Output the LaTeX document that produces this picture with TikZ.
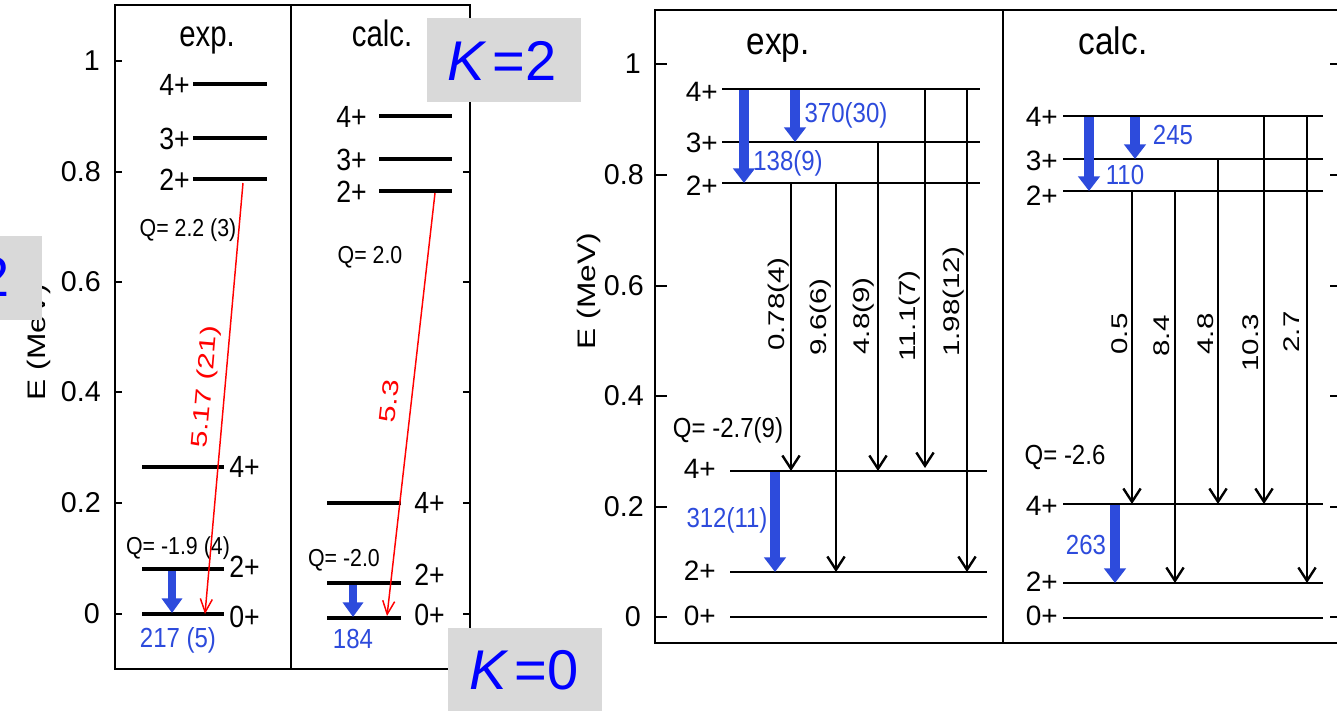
\documentclass[tikz,border=0pt]{standalone}
\usepackage{fontspec}
\setmainfont{Liberation Sans}
\usetikzlibrary{arrows.meta}
\definecolor{myblue}{RGB}{45,75,220}
\definecolor{kblue}{RGB}{0,0,255}
\definecolor{gbox}{RGB}{217,217,217}
\newcommand{\vs}[1]{\scalebox{1}[1.15]{#1}}
\newcommand{\vh}[1]{\scalebox{1}[1.25]{#1}}
\newcommand{\hs}[2]{\scalebox{#1}[1]{#2}}
\begin{document}
\begin{tikzpicture}[x=0.75pt,y=-0.75pt,
  frame/.style={line width=1.8pt},
  tick/.style={line width=1.5pt},
  lev/.style={line width=2.4pt},
  rlev/.style={line width=2.1pt},
  blarr/.style={myblue, line width=6.5pt, -{Triangle[length=11pt,width=15pt]}},
  rblarr/.style={myblue, line width=7.5pt, -{Triangle[length=11pt,width=16pt]}},
  karr/.style={line width=1.8pt, -{Straight Barb[length=10pt,width=13pt]}},
  redarr/.style={red, line width=1.1pt, -{Straight Barb[length=10pt,width=9pt]}},
  tl/.style={font=\fontsize{21.5}{24}\selectfont, inner sep=0pt},
  lvL/.style={font=\fontsize{20}{22}\selectfont, inner sep=0pt},
  lvR/.style={font=\fontsize{21}{23}\selectfont, inner sep=0pt},
  hdL/.style={font=\fontsize{22}{24}\selectfont, inner sep=0pt, anchor=base},
  hdR/.style={font=\fontsize{25}{27}\selectfont, inner sep=0pt, anchor=base},
  qL/.style={font=\fontsize{16}{18}\selectfont, inner sep=0pt},
  qR/.style={font=\fontsize{18}{20}\selectfont, inner sep=0pt},
  bL/.style={myblue, font=\fontsize{18}{20}\selectfont, inner sep=0pt},
  rot/.style={font=\fontsize{17}{19}\selectfont, inner sep=0pt, rotate=90},
  rl/.style={red, font=\fontsize{17}{19}\selectfont, inner sep=0pt},
  elab/.style={font=\fontsize{19}{21}\selectfont, inner sep=0pt, rotate=90},
  kl/.style={kblue, font=\fontsize{42}{46}\selectfont, inner sep=0pt}
]
\useasboundingbox (0,0) rectangle (1337,710);
\fill[white] (0,0) rectangle (1337,710);

% ================= LEFT PANEL =================
\draw[frame] (115,5) rectangle (470,669);
\draw[frame] (291,5) -- (291,669);
\foreach \y in {61,172,282,392,503,614} {
  \draw[tick] (115,\y) -- (122,\y);
  \draw[tick] (470,\y) -- (463,\y);
}
\node[tl, anchor=east] (lt1) at (100,61) {1};
\node[tl, anchor=east] (lt2) at (101,172) {0.8};
\node[tl, anchor=east] (lt3) at (101,282) {0.6};
\node[tl, anchor=east] (lt4) at (101,392) {0.4};
\node[tl, anchor=east] (lt5) at (101,503) {0.2};
\node[tl, anchor=east] (lt6) at (100,614) {0};
\node[elab] (le) at (39,342) {\hs{1.25}{E (MeV)}};

\node[hdL] (lexp) at (207,47) {\vh{exp.}};
\node[hdL] (lcalc) at (382,47) {\vh{calc.}};

% exp upper
\draw[lev] (193,84) -- (267,84);
\draw[lev] (193,138) -- (267,138);
\draw[lev] (193,179) -- (267,179);
\node[lvL, anchor=east] (le4) at (190,85) {\vs{4+}};
\node[lvL, anchor=east] (le3) at (190,139) {\vs{3+}};
\node[lvL, anchor=east] (le2) at (190,180) {\vs{2+}};
\node[qL] (lq1) at (188,230) {\vs{Q= 2.2 (3)}};
% exp lower
\draw[lev] (142,467) -- (224,467);
\draw[lev] (142,569) -- (224,569);
\draw[lev] (142,614) -- (224,614);
\node[lvL, anchor=west] (lg4) at (229,467) {\vs{4+}};
\node[lvL, anchor=west] (lg2) at (229,567) {\vs{2+}};
\node[lvL, anchor=west] (lg0) at (229,617) {\vs{0+}};
\node[qL] (lq2) at (178,548) {\vs{Q= -1.9 (4)}};
\draw[blarr] (172,571) -- (172,613);
\node[bL] (lb1) at (178,640) {\vs{217 (5)}};
\draw[redarr] (243,183) -- (205,614);
\node[rl, rotate=85] (lr1) at (206,387) {\hs{1.35}{5.17 (21)}};

% calc upper
\draw[lev] (379,116) -- (452,116);
\draw[lev] (379,159) -- (452,159);
\draw[lev] (379,191) -- (452,191);
\node[lvL, anchor=east] (lc4) at (367,117) {\vs{4+}};
\node[lvL, anchor=east] (lc3) at (367,160) {\vs{3+}};
\node[lvL, anchor=east] (lc2) at (367,192) {\vs{2+}};
\node[qL] (lq3) at (370,257) {\vs{Q= 2.0}};
% calc lower
\draw[lev] (327,503) -- (401,503);
\draw[lev] (327,583) -- (401,583);
\draw[lev] (327,618) -- (401,618);
\node[lvL, anchor=west] (lh4) at (414,503) {\vs{4+}};
\node[lvL, anchor=west] (lh2) at (414,575) {\vs{2+}};
\node[lvL, anchor=west] (lh0) at (414,615) {\vs{0+}};
\node[qL] (lq4) at (344,560) {\vs{Q= -2.0}};
\draw[blarr] (353,585) -- (353,617);
\node[bL] (lb2) at (353,639) {\vs{184}};
\draw[redarr] (435,193) -- (387,616);
\node[rl, rotate=83.5] (lr2) at (389,401) {\hs{1.35}{5.3}};

% ================= RIGHT PANEL =================
\draw[frame] (1345,10) -- (655,10) -- (655,643) -- (1345,643);
\draw[frame] (1003,10) -- (1003,643);
\foreach \y in {64,175,286,396,507,617} {
  \draw[tick] (655,\y) -- (667,\y);
  \draw[tick] (1330,\y) -- (1345,\y);
}
\node[tl, anchor=east] (rt1) at (641,64) {1};
\node[tl, anchor=east] (rt2) at (644,175) {0.8};
\node[tl, anchor=east] (rt3) at (644,286) {0.6};
\node[tl, anchor=east] (rt4) at (644,396) {0.4};
\node[tl, anchor=east] (rt5) at (644,507) {0.2};
\node[tl, anchor=east] (rt6) at (641,617) {0};
\node[elab] (re) at (589,291) {\hs{1.25}{E (MeV)}};

\node[hdR] (rexp) at (778,55) {\vs{exp.}};
\node[hdR] (rcalc) at (1113,55) {\vs{calc.}};

% exp
\draw[rlev] (722,89) -- (980,89);
\draw[rlev] (722,142) -- (980,142);
\draw[rlev] (722,183) -- (980,183);
\draw[rlev] (730,471) -- (987,471);
\draw[rlev] (730,572) -- (987,572);
\draw[rlev] (730,617) -- (987,617);
\node[lvR, anchor=east] (re4) at (718,92) {4+};
\node[lvR, anchor=east] (re3) at (718,143) {3+};
\node[lvR, anchor=east] (re2) at (718,186) {2+};
\node[lvR, anchor=east] (rg4) at (716,469) {4+};
\node[lvR, anchor=east] (rg2) at (716,571) {2+};
\node[lvR, anchor=east] (rg0) at (716,616) {0+};
\node[qR] (rq1) at (728,430) {\vs{Q= -2.7(9)}};

\draw[rblarr] (744,90) -- (744,183);
\draw[rblarr] (795,90) -- (795,142);
\draw[rblarr] (775,472) -- (775,572);
\node[bL] (rb1) at (846,115) {\vs{370(30)}};
\node[bL] (rb2) at (788,163) {\vs{138(9)}};
\node[bL] (rb3) at (727,520) {\vs{312(11)}};

\draw[karr] (791,183) -- (791,471);
\draw[karr] (836,183) -- (836,572);
\draw[karr] (878,142) -- (878,471);
\draw[karr] (925,89) -- (925,468);
\draw[karr] (967,89) -- (967,572);
\node[rot] (x1) at (779,304) {\hs{1.3}{0.78(4)}};
\node[rot] (x2) at (821,317) {\hs{1.3}{9.6(6)}};
\node[rot] (x3) at (864,316) {\hs{1.3}{4.8(9)}};
\node[rot] (x4) at (910,316) {\hs{1.3}{11.1(7)}};
\node[rot] (x5) at (954,302) {\hs{1.3}{1.98(12)}};

% calc
\draw[rlev] (1063,116) -- (1323,116);
\draw[rlev] (1063,159) -- (1323,159);
\draw[rlev] (1063,191) -- (1323,191);
\draw[rlev] (1063,504) -- (1323,504);
\draw[rlev] (1063,583) -- (1323,583);
\draw[rlev] (1063,618) -- (1323,618);
\node[lvR, anchor=east] (rc4) at (1058,117) {4+};
\node[lvR, anchor=east] (rc3) at (1058,161) {3+};
\node[lvR, anchor=east] (rc2) at (1058,196) {2+};
\node[lvR, anchor=east] (rh4) at (1058,506) {4+};
\node[lvR, anchor=east] (rh2) at (1058,582) {2+};
\node[lvR, anchor=east] (rh0) at (1058,616) {0+};
\node[qR] (rq2) at (1065,457) {\vs{Q= -2.6}};

\draw[rblarr] (1089,117) -- (1089,191);
\draw[rblarr] (1135,117) -- (1135,159);
\draw[rblarr] (1115,505) -- (1115,583);
\node[bL] (rb4) at (1173,135) {\vs{245}};
\node[bL] (rb5) at (1125,175) {\vs{110}};
\node[bL] (rb6) at (1086,545) {\vs{263}};

\draw[karr] (1132,191) -- (1132,504);
\draw[karr] (1175,191) -- (1175,583);
\draw[karr] (1218,159) -- (1218,504);
\draw[karr] (1264,116) -- (1264,504);
\draw[karr] (1307,116) -- (1307,583);
\node[rot] (y1) at (1120,334) {\hs{1.3}{0.5}};
\node[rot] (y2) at (1162,336) {\hs{1.3}{8.4}};
\node[rot] (y3) at (1206,334) {\hs{1.3}{4.8}};
\node[rot] (y4) at (1251,343) {\hs{1.3}{10.3}};
\node[rot] (y5) at (1292,332) {\hs{1.3}{2.7}};

% ================= K boxes =================
\fill[gbox] (427,18) rectangle (581,102);
\node[kl] (k2) at (502,61) {\textit{K}\kern4pt=2};
\fill[gbox] (448,628) rectangle (602,712);
\node[kl] (k0) at (524,670) {\textit{K}\kern4pt=0};
\fill[gbox] (0,236) rectangle (42,320);
\begin{scope}
  \clip (0,236) rectangle (42,320);
  \node[kl, anchor=east] (kc) at (10,277) {\textit{K}\kern4pt=2};
\end{scope}
\end{tikzpicture}
\end{document}
